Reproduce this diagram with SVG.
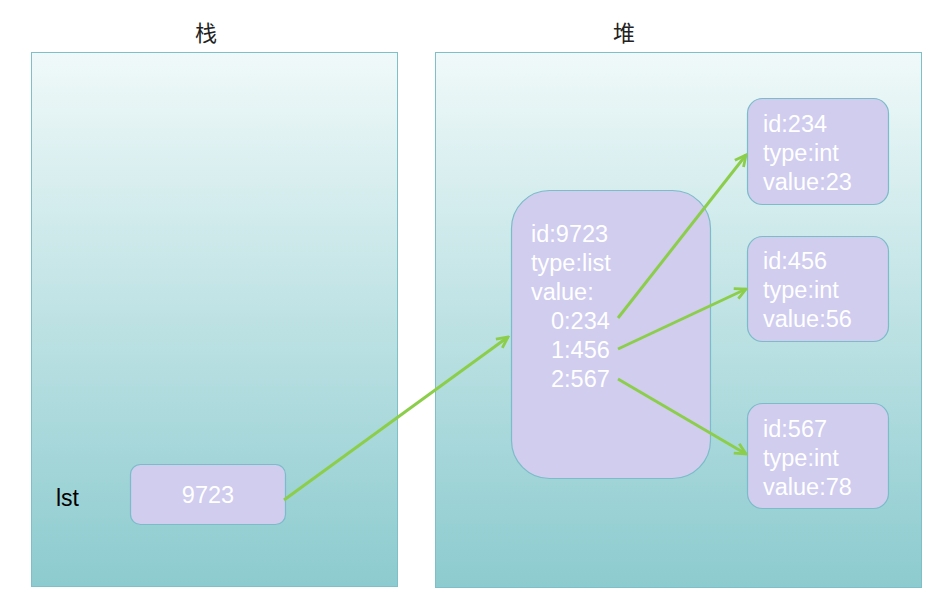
<svg xmlns="http://www.w3.org/2000/svg" width="933" height="608" viewBox="0 0 933 608">
<style>
.panel{stroke:#7fc0c8;stroke-width:1}
.node{fill:#d0cdef;stroke:#7bbcc9;stroke-width:1.2}
.t{font-family:"Liberation Sans",Arial,sans-serif;font-size:23.5px;fill:#ffffff}
.title{font-family:"Noto Sans CJK SC",sans-serif;font-size:22px;fill:#222;text-anchor:middle}
.conn{stroke:#8cce4a;stroke-width:3;fill:none;marker-end:url(#ah)}
</style>
<defs>
<linearGradient id="bg" x1="0" y1="0" x2="0" y2="1">
<stop offset="0" stop-color="#f0f9f9"/>
<stop offset="1" stop-color="#8ccbcf"/>
</linearGradient>
<marker id="ah" viewBox="0 0 14 14" refX="12" refY="7" markerWidth="14" markerHeight="14" markerUnits="userSpaceOnUse" orient="auto">
<path d="M1,1.5 L12,7 L1,12.5" fill="none" stroke="#8cce4a" stroke-width="2.8"/>
</marker>
</defs>
<rect width="933" height="608" fill="#ffffff"/>
<g id="stack-panel">
<rect class="panel" x="31.5" y="52.5" width="366" height="534" fill="url(#bg)"/>
<text class="title" x="206" y="41">栈</text>
</g>
<g id="heap-panel">
<rect class="panel" x="435.5" y="52.5" width="486" height="535" fill="url(#bg)"/>
<text class="title" x="624" y="41">堆</text>
</g>
<g id="lst">
<text x="56" y="506" font-family="Liberation Sans,Arial,sans-serif" font-size="23" fill="#000">lst</text>
<rect class="node" x="130.5" y="464.5" width="155" height="60" rx="10"/>
<text class="t" x="208" y="503" text-anchor="middle">9723</text>
</g>
<g id="list-node">
<rect class="node" x="511.5" y="190.5" width="199" height="288" rx="38"/>
<text class="t" x="531" y="242">id:9723</text>
<text class="t" x="531" y="271">type:list</text>
<text class="t" x="531" y="300">value:</text>
<text class="t" x="551" y="329">0:234</text>
<text class="t" x="551" y="358">1:456</text>
<text class="t" x="551" y="387">2:567</text>
</g>
<g id="int-234">
<rect class="node" x="747.5" y="98.5" width="141" height="106" rx="15"/>
<text class="t" x="763" y="132">id:234</text>
<text class="t" x="763" y="161">type:int</text>
<text class="t" x="763" y="190">value:23</text>
</g>
<g id="int-456">
<rect class="node" x="747.5" y="236.5" width="141" height="105" rx="15"/>
<text class="t" x="763" y="269">id:456</text>
<text class="t" x="763" y="298">type:int</text>
<text class="t" x="763" y="327">value:56</text>
</g>
<g id="int-567">
<rect class="node" x="747.5" y="403.5" width="141" height="105" rx="15"/>
<text class="t" x="763" y="437">id:567</text>
<text class="t" x="763" y="466">type:int</text>
<text class="t" x="763" y="495">value:78</text>
</g>
<g id="connectors">
<line class="conn" x1="284" y1="500" x2="508" y2="337"/>
<line class="conn" x1="618" y1="318" x2="746" y2="155"/>
<line class="conn" x1="618" y1="349" x2="746" y2="289"/>
<line class="conn" x1="618" y1="379" x2="746" y2="454"/>
</g>
</svg>
